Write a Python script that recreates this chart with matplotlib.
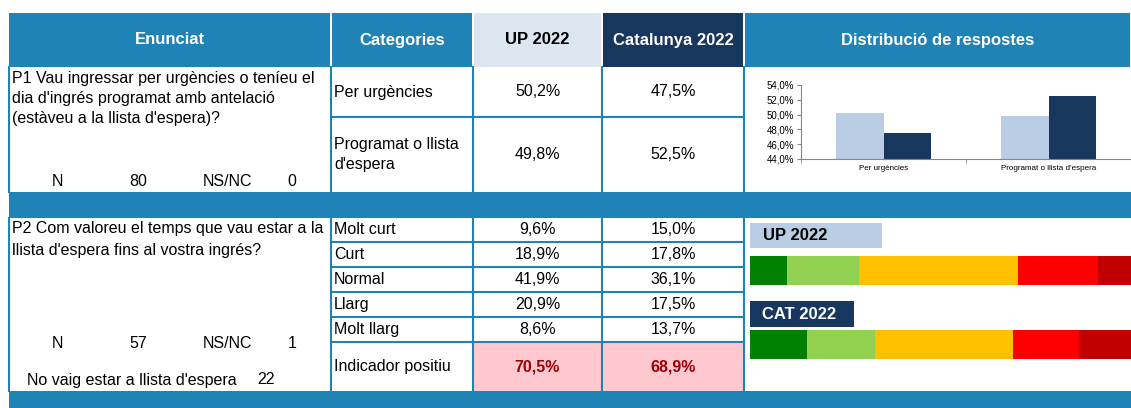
import matplotlib.pyplot as plt
from matplotlib.patches import Rectangle

plt.rcParams['font.family'] = ['Liberation Sans', 'DejaVu Sans']

# ---- data ----
headers = ['Enunciat', 'Categories', 'UP 2022', 'Catalunya 2022', 'Distribució de respostes']

p1_question = ["P1 Vau ingressar per urgències o teníeu el",
               "dia d'ingrés programat amb antelació",
               "(estàveu a la llista d'espera)?"]
p1_categories = ['Per urgències', "Programat o llista\nd'espera"]
p1_chart_labels = ['Per urgències', "Programat o llista d'espera"]
p1_up = [50.2, 49.8]
p1_cat = [47.5, 52.5]
p1_n = 80
p1_nsnc = 0

p2_question = ["P2 Com valoreu el temps que vau estar a la",
               "llista d'espera fins al vostra ingrés?"]
p2_categories = ['Molt curt', 'Curt', 'Normal', 'Llarg', 'Molt llarg']
p2_up = [9.6, 18.9, 41.9, 20.9, 8.6]
p2_cat = [15.0, 17.8, 36.1, 17.5, 13.7]
p2_ind_label = 'Indicador positiu'
p2_ind_up = 70.5
p2_ind_cat = 68.9
p2_n = 57
p2_nsnc = 1
p2_no_wait_label = "No vaig estar a llista d'espera"
p2_no_wait = 22

p1_yticks = [44, 46, 48, 50, 52, 54]
dist_labels = ['UP 2022', 'CAT 2022']
scale_colors = ['#008000', '#92D050', '#FFC000', '#FF0000', '#C00000']

# ---- layout (pixels) ----
W, H = 1131, 408
BLUE = '#2083B5'
NAVY = '#17375E'
LIGHT = '#B9CDE5'
col_x = [9, 331, 473, 602, 744, 1131]
head_y = (13, 67)
p1_rows = [67, 117, 192]
band1 = (192, 218)
p2_rows = [218, 242, 267, 292, 317, 342, 391]
band2 = (391, 408)


def pct(v):
    return f'{v:.1f}%'.replace('.', ',')


fig = plt.figure(figsize=(W / 100, H / 100), dpi=100)
ax = fig.add_axes([0, 0, 1, 1])
ax.set_xlim(0, W)
ax.set_ylim(H, 0)
ax.axis('off')

# header cells
head_fill = [BLUE, BLUE, '#DCE6F1', NAVY, BLUE]
head_text = ['white', 'white', 'black', 'white', 'white']
for i, h in enumerate(headers):
    x0, x1 = col_x[i] + (1 if i else 0), col_x[i + 1] - 1
    ax.add_patch(Rectangle((x0, head_y[0]), x1 - x0, head_y[1] - head_y[0], color=head_fill[i], lw=0))
    ax.text((x0 + x1) / 2, (head_y[0] + head_y[1]) / 2, h, ha='center', va='center',
            fontsize=12, fontweight='bold', color=head_text[i])

# blue bands
for b in (band1, band2):
    ax.add_patch(Rectangle((col_x[0], b[0]), W - col_x[0], b[1] - b[0], color=BLUE, lw=0))

# pink indicator cells
for i in (2, 3):
    ax.add_patch(Rectangle((col_x[i], p2_rows[-2]), col_x[i + 1] - col_x[i], p2_rows[-1] - p2_rows[-2],
                           color='#FFC7CE', lw=0))

lw = 1.5
# vertical borders
for x in col_x[:5]:
    ax.plot([x, x], [head_y[1], band1[0]], color=BLUE, lw=lw)
    ax.plot([x, x], [band1[1], band2[0]], color=BLUE, lw=lw)
# horizontal borders in category/value columns
for y in p1_rows[1:-1] + p2_rows[1:-1]:
    ax.plot([col_x[1], col_x[4]], [y, y], color=BLUE, lw=lw)

fs = 11.5
# P1 block
for k, line in enumerate(p1_question):
    ax.text(12, 79 + k * 20, line, ha='left', va='center', fontsize=fs)
for xx, t in zip([57, 138, 228, 292], ['N', str(p1_n), 'NS/NC', str(p1_nsnc)]):
    ax.text(xx, 182, t, ha='center', va='center', fontsize=fs)
for r, c in enumerate(p1_categories):
    yc = (p1_rows[r] + p1_rows[r + 1]) / 2
    ax.text(col_x[1] + 3, yc, c, ha='left', va='center', fontsize=fs, linespacing=1.4)
    ax.text((col_x[2] + col_x[3]) / 2, yc, pct(p1_up[r]), ha='center', va='center', fontsize=fs)
    ax.text((col_x[3] + col_x[4]) / 2, yc, pct(p1_cat[r]), ha='center', va='center', fontsize=fs)

# P2 block
for k, line in enumerate(p2_question):
    ax.text(12, 229 + k * 21, line, ha='left', va='center', fontsize=fs)
for xx, t in zip([57, 138, 228, 292], ['N', str(p2_n), 'NS/NC', str(p2_nsnc)]):
    ax.text(xx, 343, t, ha='center', va='center', fontsize=fs)
ax.text(27, 380, p2_no_wait_label, ha='left', va='center', fontsize=fs)
ax.text(266, 380, str(p2_no_wait), ha='center', va='center', fontsize=fs)
for r, c in enumerate(p2_categories):
    yc = (p2_rows[r] + p2_rows[r + 1]) / 2
    ax.text(col_x[1] + 3, yc, c, ha='left', va='center', fontsize=fs)
    ax.text((col_x[2] + col_x[3]) / 2, yc, pct(p2_up[r]), ha='center', va='center', fontsize=fs)
    ax.text((col_x[3] + col_x[4]) / 2, yc, pct(p2_cat[r]), ha='center', va='center', fontsize=fs)
yc = (p2_rows[-2] + p2_rows[-1]) / 2
ax.text(col_x[1] + 3, yc, p2_ind_label, ha='left', va='center', fontsize=fs)
ax.text((col_x[2] + col_x[3]) / 2, yc, pct(p2_ind_up), ha='center', va='center', fontsize=fs,
        fontweight='bold', color='#9C0006')
ax.text((col_x[3] + col_x[4]) / 2, yc, pct(p2_ind_cat), ha='center', va='center', fontsize=fs,
        fontweight='bold', color='#9C0006')

# labels of distribution bars
ax.add_patch(Rectangle((750, 223), 132, 25, color=LIGHT, lw=0))
ax.text(763, 236, dist_labels[0], ha='left', va='center', fontsize=12, fontweight='bold', color='black')
ax.add_patch(Rectangle((750, 301), 104, 26, color=NAVY, lw=0))
ax.text(762, 314.5, dist_labels[1], ha='left', va='center', fontsize=12, fontweight='bold', color='white')

# ---- P1 bar chart ----
bx = fig.add_axes([801 / W, (H - 159) / H, (W - 801) / W, 74 / H])
pos = list(range(len(p1_up)))
bw = 0.285
bx.bar([p - bw / 2 for p in pos], p1_up, width=bw, color=LIGHT)
bx.bar([p + bw / 2 for p in pos], p1_cat, width=bw, color=NAVY)
bx.set_ylim(44, 54)
bx.set_xlim(-0.5, len(pos) - 0.5)
bx.set_yticks(p1_yticks)
bx.set_yticklabels([pct(v) for v in p1_yticks], fontsize=7)
bx.set_xticks(pos)
bx.set_xticklabels(p1_chart_labels, fontsize=5.8)
bx.set_xticks([p - 0.5 for p in range(len(pos) + 1)], minor=True)
bx.tick_params(axis='x', which='major', length=0, pad=4)
bx.tick_params(axis='x', which='minor', length=3, color='#868686')
bx.tick_params(axis='y', length=3, color='#868686', pad=2)
for s in ('top', 'right'):
    bx.spines[s].set_visible(False)
for s in ('left', 'bottom'):
    bx.spines[s].set_color('#868686')
    bx.spines[s].set_linewidth(0.8)
bx.patch.set_alpha(0)

# ---- P2 stacked distribution ----
hh = 29 / 74
sx = fig.add_axes([750 / W, (H - 359) / H, (W - 750) / W, 103 / H])
series = [p2_up, p2_cat]
for row, vals in enumerate(series):
    yy = 1 - row
    left = 0
    for v, col in zip(vals, scale_colors):
        sx.barh(yy, v, left=left, height=hh, color=col, lw=0)
        left += v
sx.set_xlim(0, 100)
sx.set_ylim(-hh / 2, 1 + hh / 2)
sx.axis('off')

fig.savefig('out.png', dpi=100)
